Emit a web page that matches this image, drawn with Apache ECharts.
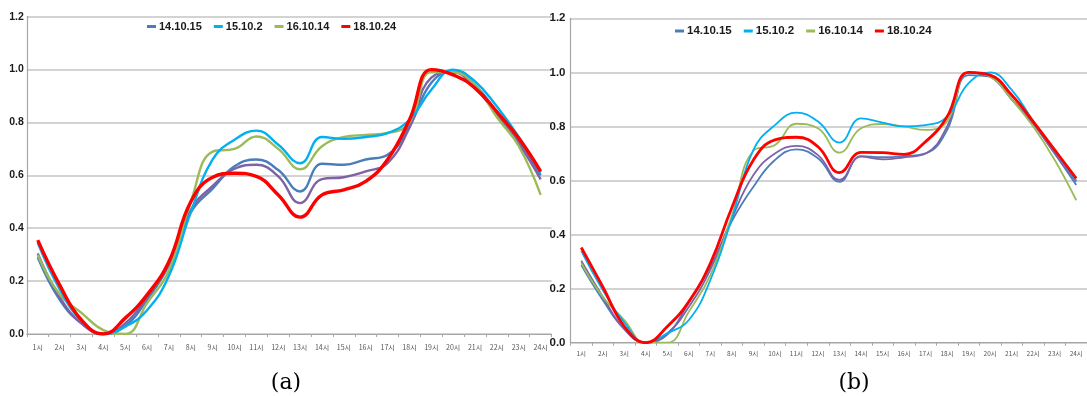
<!DOCTYPE html>
<html><head><meta charset="utf-8">
<script src="https://cdn.jsdelivr.net/npm/echarts@6/dist/echarts.min.js"></script>
<style>html,body{margin:0;padding:0;background:#fff}#c{width:1087px;height:396px}</style>
</head><body><div id="c"></div>
<script>
var hours = ['1시','2시','3시','4시','5시','6시','7시','8시','9시','10시','11시','12시','13시','14시','15시','16시','17시','18시','19시','20시','21시','22시','23시','24시'];
var yTicks = [0, 0.2, 0.4, 0.6, 0.8, 1.0, 1.2];
var seriesNames = ['14.10.15', '15.10.2', '16.10.14', '18.10.24'];
var panelLabels = ['(a)', '(b)'];

// panel (a)
var a14 = [0.29,0.13,0.04,0.0,0.03,0.13,0.26,0.46,0.55,0.634,0.66,0.62,0.539,0.644,0.64,0.66,0.678,0.785,0.95,0.993,0.94,0.84,0.73,0.60];
var a15 = [0.345,0.17,0.05,0.0,0.028,0.09,0.22,0.46,0.66,0.735,0.769,0.716,0.646,0.745,0.738,0.745,0.76,0.81,0.924,1.0,0.955,0.86,0.745,0.61];
var a16 = [0.30,0.15,0.08,0.015,0.0,0.117,0.24,0.50,0.69,0.70,0.747,0.70,0.623,0.71,0.745,0.753,0.76,0.80,0.99,0.99,0.94,0.82,0.71,0.526];
var a18 = [0.355,0.186,0.053,0.0,0.06,0.148,0.274,0.50,0.593,0.608,0.596,0.526,0.442,0.526,0.545,0.577,0.66,0.81,1.0,0.98,0.93,0.84,0.74,0.615];
var aExtra = [0.305,0.14,0.04,0.0,0.04,0.14,0.27,0.47,0.56,0.625,0.64,0.596,0.495,0.586,0.593,0.615,0.646,0.78,0.97,0.99,0.93,0.83,0.72,0.585];

// panel (b)
var b14 = [0.287,0.158,0.05,0.0,0.03,0.15,0.28,0.45,0.577,0.676,0.715,0.682,0.595,0.69,0.686,0.69,0.70,0.787,0.99,0.984,0.90,0.81,0.70,0.583];
var b15 = [0.34,0.195,0.075,0.0,0.035,0.084,0.232,0.46,0.713,0.805,0.851,0.818,0.74,0.83,0.814,0.80,0.805,0.836,0.96,1.0,0.935,0.82,0.71,0.60];
var b16 = [0.295,0.17,0.084,0.0,0.0,0.115,0.25,0.47,0.71,0.731,0.81,0.793,0.703,0.793,0.809,0.80,0.787,0.818,1.0,0.984,0.90,0.80,0.676,0.527];
var b18 = [0.352,0.207,0.06,0.0,0.06,0.152,0.294,0.50,0.676,0.75,0.76,0.725,0.629,0.704,0.703,0.697,0.744,0.836,1.0,0.99,0.916,0.818,0.713,0.608];
var bExtra = [0.303,0.17,0.05,0.0,0.035,0.133,0.27,0.46,0.62,0.70,0.728,0.694,0.602,0.688,0.678,0.686,0.70,0.80,1.0,0.984,0.90,0.81,0.70,0.596];

var colors = {blue:'#4a7ebb', cyan:'#00b0f0', green:'#9bbb59', red:'#ff0000', purple:'#7f62a6'};
var sans = '"Liberation Sans",Arial,sans-serif';
var cjk = '"Noto Sans CJK KR","Noto Sans",sans-serif';

function line(name, data, color, width, idx, z) {
  return {type:'line', name:name, data:data, xAxisIndex:idx, yAxisIndex:idx, smooth:0.45,
    symbol:'none', z:z, lineStyle:{color:color, width:width}, itemStyle:{color:color}};
}

function xAx(idx, size, margin) {
  return {type:'category', gridIndex:idx, data:hours, boundaryGap:true,
    axisLine:{show:true, lineStyle:{color:'#a6a6a6', width:1.2}},
    axisTick:{show:true, length:3, lineStyle:{color:'#a6a6a6'}},
    axisLabel:{fontSize:size, color:'#555', margin:margin, fontFamily:cjk, interval:0}};
}
function yAx(idx, size, margin) {
  return {type:'value', gridIndex:idx, min:yTicks[0], max:yTicks[yTicks.length-1], interval:yTicks[1]-yTicks[0],
    axisLine:{show:true, lineStyle:{color:'#a6a6a6', width:1.2}}, axisTick:{show:false},
    splitLine:{lineStyle:{color:'#c4c4c4', width:1.5}},
    axisLabel:{fontSize:size, fontWeight:'bold', color:'#1a1a1a', margin:margin, fontFamily:sans,
      formatter:function(v){return v.toFixed(1);}}};
}

var chart = echarts.init(document.getElementById('c'));
chart.setOption({
  animation:false,
  backgroundColor:'#fff',
  title:[
    {text:panelLabels[0], left:281, top:367, textAlign:'center', textStyle:{fontFamily:'"DejaVu Serif","Liberation Serif",serif', fontWeight:'normal', fontSize:22, color:'#000'}},
    {text:panelLabels[1], left:849, top:367, textAlign:'center', textStyle:{fontFamily:'"DejaVu Serif","Liberation Serif",serif', fontWeight:'normal', fontSize:22, color:'#000'}}
  ],
  legend:[
    {data:seriesNames, left:147, top:21, padding:0, itemGap:12, itemWidth:9, itemHeight:3, icon:'rect',
      textStyle:{fontFamily:sans, fontWeight:'bold', fontSize:11, color:'#1a1a1a', padding:[0,0,0,-2]}},
    {data:seriesNames, left:675, top:25, padding:0, itemGap:12, itemWidth:9, itemHeight:3, icon:'rect',
      textStyle:{fontFamily:sans, fontWeight:'bold', fontSize:11.5, color:'#1a1a1a', padding:[0,0,0,-2]}}
  ],
  grid:[
    {left:26.8, top:16.7, width:524.8, height:317.3, containLabel:false},
    {left:570.5, top:18.3, width:519, height:324.4, containLabel:false}
  ],
  xAxis:[xAx(0, 7, 10), xAx(1, 6.5, 8)],
  yAxis:[yAx(0, 10.5, 3), yAx(1, 11.5, 5)],
  series:[
    line('14.10.15', a14, colors.blue, 2.4, 0, 2),
    line('extra', aExtra, colors.purple, 2.4, 0, 2),
    line('16.10.14', a16, colors.green, 2.4, 0, 3),
    line('15.10.2', a15, colors.cyan, 2.4, 0, 4),
    line('18.10.24', a18, colors.red, 3.4, 0, 5),
    line('14.10.15', b14, colors.blue, 1.8, 1, 2),
    line('extra', bExtra, colors.purple, 1.8, 1, 2),
    line('16.10.14', b16, colors.green, 1.8, 1, 3),
    line('15.10.2', b15, colors.cyan, 1.8, 1, 4),
    line('18.10.24', b18, colors.red, 2.8, 1, 5)
  ]
});
</script></body></html>
